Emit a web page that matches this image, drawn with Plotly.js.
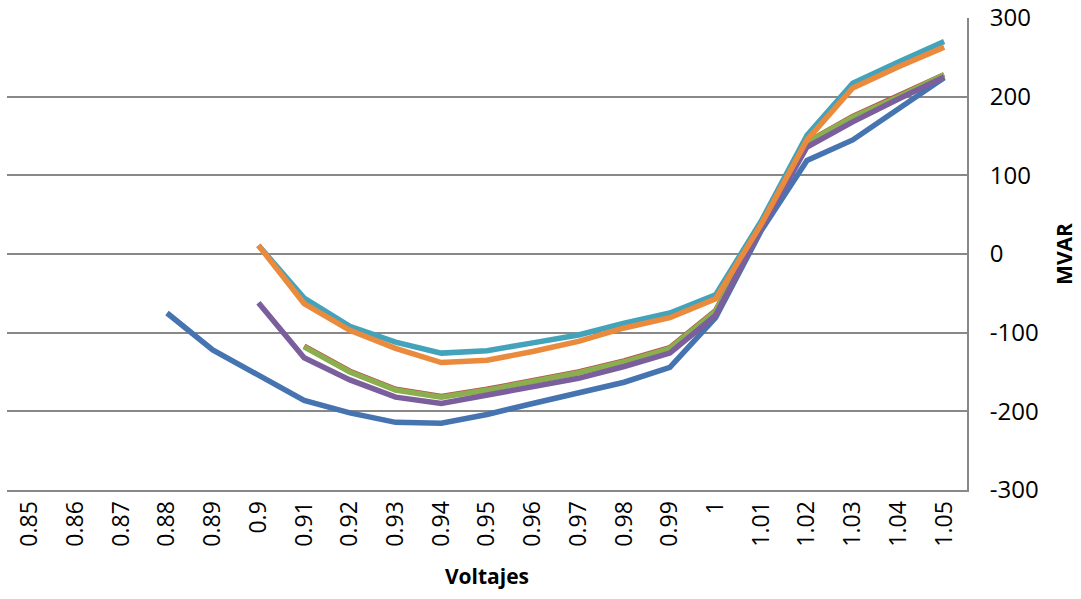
<!DOCTYPE html>
<html>
<head>
<meta charset="utf-8">
<script src="https://cdn.plot.ly/plotly-3.0.1.min.js"></script>
<style>html,body{margin:0;padding:0;background:#fff;}#chart{width:1081px;height:599px;}</style>
</head>
<body>
<div id="chart"></div>
<script>
const voltajes = ["0.85","0.86","0.87","0.88","0.89","0.9","0.91","0.92","0.93","0.94","0.95","0.96","0.97","0.98","0.99","1","1.01","1.02","1.03","1.04","1.05"];
const serie1 = [null,null,null,-75,-122,-154,-186,-202,-214,-215,-204,-190,-177,-163,-144,-81,30,119,145,185,224];
const serie2 = [null,null,null,null,null,null,-117,-149,-172,-181,-172,-161,-150,-136,-119,-72,36,142,175,201,228];
const serie3 = [null,null,null,null,null,null,-118,-150,-173,-182,-173,-162,-151,-137,-120,-73,36,142,174,200,228];
const serie4 = [null,null,null,null,null,-62,-132,-160,-182,-190,-179,-169,-158,-143,-126,-78,33,136,168,197,225];
const serie5 = [null,null,null,null,null,11,-56,-92,-112,-126,-123,-113,-103,-88,-75,-52,42,151,217,244,270];
const serie6 = [null,null,null,null,null,11,-63,-97,-120,-138,-135,-124,-111,-94,-81,-57,38,145,211,238,263];
const yTickVals = [-300,-200,-100,0,100,200,300];
const yTickText = ["-300","-200","-100","0","100","200","300"];

const colors = ["#4674B0","#BC4E4A","#8BAF4E","#7A5F9C","#43A3BB","#EA8A3C"];
const series = [serie1, serie2, serie3, serie4, serie5, serie6];
const traces = series.map((s, i) => ({
  x: voltajes, y: s, type: "scatter", mode: "lines",
  line: {color: colors[i], width: 5.5},
  connectgaps: false, hoverinfo: "x+y"
}));

const layout = {
  width: 1081, height: 599,
  margin: {l: 7, r: 114, t: 18, b: 109},
  paper_bgcolor: "#fff", plot_bgcolor: "#fff",
  showlegend: false,
  font: {family: "Open Sans, Liberation Sans, sans-serif", color: "#000", size: 18},
  xaxis: {
    type: "category", tickangle: -90, showgrid: false,
    showline: true, linecolor: "#888888", linewidth: 2,
    ticks: "", tickfont: {size: 23},
    title: {text: "<b>Voltajes</b>", font: {size: 21}, standoff: 24},
    range: [-0.5, 20.5], fixedrange: true
  },
  yaxis: {
    side: "right", range: [-300, 300],
    tickmode: "array", tickvals: yTickVals, ticktext: yTickText,
    showgrid: true, gridcolor: "#888888", gridwidth: 2,
    zeroline: false, showline: true, linecolor: "#888888", linewidth: 2,
    ticks: "", ticklabelstandoff: 16, tickfont: {size: 24},
    title: {text: "<b>MVAR</b>", font: {size: 21}, standoff: 20},
    fixedrange: true
  }
};
Plotly.newPlot("chart", traces, layout, {displayModeBar: false, staticPlot: true});
</script>
</body>
</html>
